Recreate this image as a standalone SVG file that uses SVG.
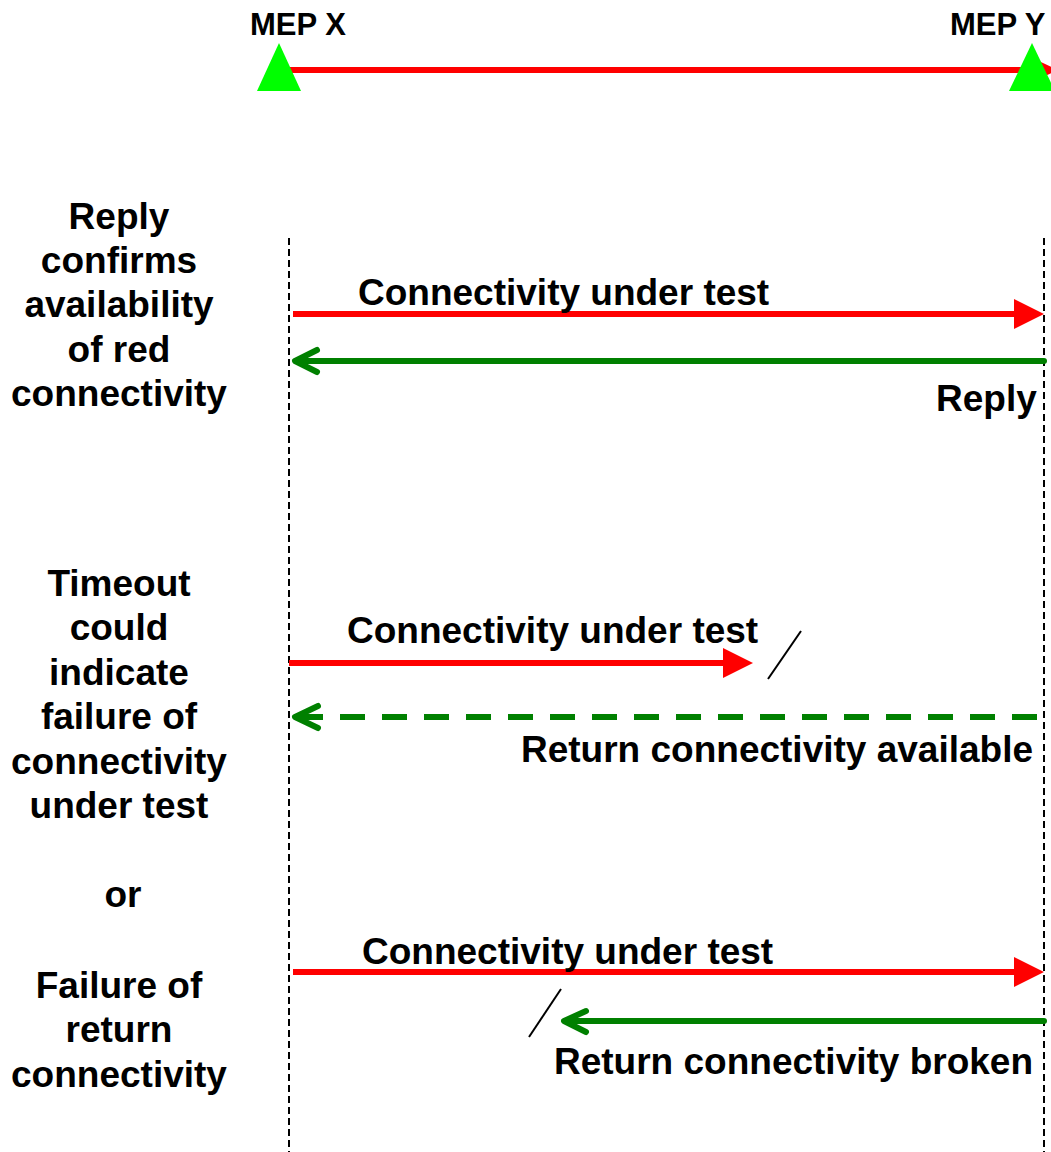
<svg xmlns="http://www.w3.org/2000/svg" width="1051" height="1152" viewBox="0 0 1051 1152">
<style>
text{font-family:"Liberation Sans",Arial,sans-serif;font-weight:bold;fill:#000}
.lbl{font-size:37px}
.left{font-size:37px;text-anchor:middle}
.mep{font-size:31px}
.life{stroke:#000;stroke-width:2;stroke-dasharray:7 4;fill:none}
.red{stroke:#FF0000;stroke-width:6;fill:none}
.grn{stroke:#008000;stroke-width:6;fill:none;stroke-linecap:round;stroke-linejoin:round}
.brk{stroke:#000;stroke-width:2;fill:none}
.tri{fill:#00FF00}
</style>
<rect width="1051" height="1152" fill="#fff"/>
<g id="top-link">
  <line class="red" x1="290" y1="70" x2="1040" y2="70"/>
  <polygon points="1028,56 1058,70 1028,84" fill="#FF0000"/>
</g>
<g id="mep-x">
  <text class="mep" x="250" y="35">MEP X</text>
  <polygon class="tri" points="279,43 257,91 301,91"/>
</g>
<g id="mep-y">
  <text class="mep" x="950" y="35">MEP Y</text>
  <polygon class="tri" points="1032,43 1009,91 1055,91"/>
</g>
<g id="lifelines">
  <line class="life" x1="289" y1="238" x2="289" y2="1152"/>
  <line class="life" x1="1044" y1="238" x2="1044" y2="1152"/>
</g>
<g id="labels-left">
  <text class="left" x="119" y="229">Reply</text>
  <text class="left" x="119" y="273">confirms</text>
  <text class="left" x="119" y="317">availability</text>
  <text class="left" x="119" y="362">of red</text>
  <text class="left" x="119" y="406">connectivity</text>
  <text class="left" x="119" y="596">Timeout</text>
  <text class="left" x="119" y="640">could</text>
  <text class="left" x="119" y="685">indicate</text>
  <text class="left" x="119" y="729">failure of</text>
  <text class="left" x="119" y="774">connectivity</text>
  <text class="left" x="119" y="818">under test</text>
  <text class="left" x="123" y="907">or</text>
  <text class="left" x="119" y="998">Failure of</text>
  <text class="left" x="119" y="1042">return</text>
  <text class="left" x="119" y="1087">connectivity</text>
</g>
<g id="connectors">
  <g id="row1-forward">
    <line class="red" x1="293" y1="314" x2="1016" y2="314"/>
    <polygon points="1014,299 1044,314 1014,329" fill="#FF0000"/>
  </g>
  <g id="row1-reply">
    <line class="grn" x1="1044" y1="361" x2="296" y2="361" stroke-linecap="butt"/>
    <polyline class="grn" points="317,350 295,361 317,372"/>
  </g>
  <g id="row2-forward">
    <line class="red" x1="289" y1="663" x2="725" y2="663"/>
    <polygon points="723,648 753,663 723,678" fill="#FF0000"/>
    <line class="brk" x1="768" y1="679" x2="801" y2="631"/>
  </g>
  <g id="row2-return">
    <line x1="1037" y1="717" x2="296" y2="717" stroke="#008000" stroke-width="6" stroke-dasharray="25 17"/>
    <polyline class="grn" points="318,706 295,717 318,728"/>
  </g>
  <g id="row3-forward">
    <line class="red" x1="293" y1="972" x2="1016" y2="972"/>
    <polygon points="1014,957 1044,972 1014,987" fill="#FF0000"/>
  </g>
  <g id="row3-return">
    <line class="grn" x1="1044" y1="1021" x2="566" y2="1021" stroke-linecap="butt"/>
    <polyline class="grn" points="586,1011 564,1021 586,1032"/>
    <line class="brk" x1="529" y1="1037" x2="561" y2="989"/>
  </g>
</g>
<g id="labels-arrows">
  <text class="lbl" x="358" y="305">Connectivity under test</text>
  <text class="lbl" x="936" y="411">Reply</text>
  <text class="lbl" x="347" y="643">Connectivity under test</text>
  <text class="lbl" x="521" y="762">Return connectivity available</text>
  <text class="lbl" x="362" y="964">Connectivity under test</text>
  <text class="lbl" x="554" y="1074">Return connectivity broken</text>
</g>
</svg>
